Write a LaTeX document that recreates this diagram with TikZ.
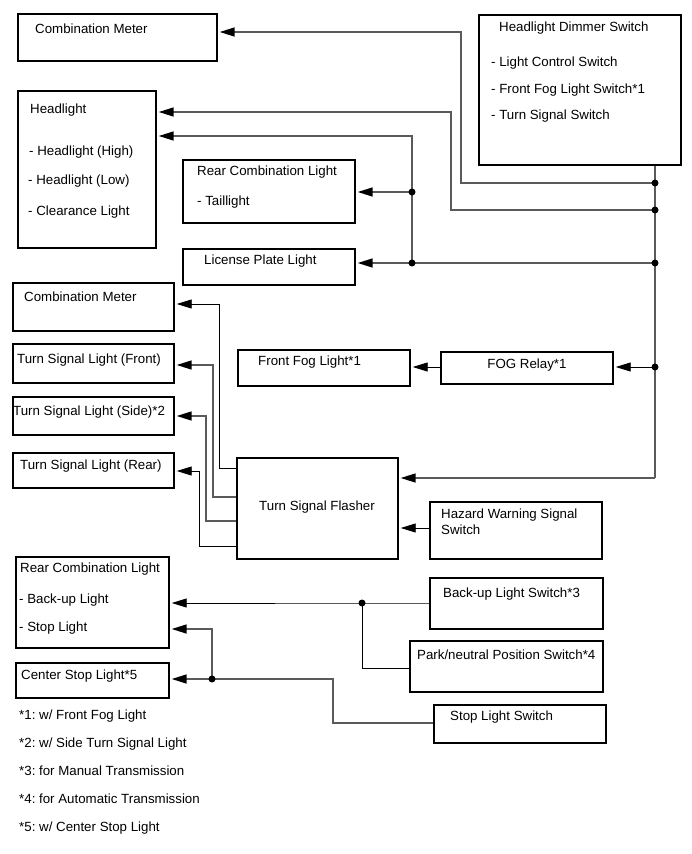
\documentclass[tikz,border=0pt]{standalone}
\usepackage{fontspec}
\setmainfont{Liberation Sans}
\usetikzlibrary{arrows.meta}
\frenchspacing
\begin{document}
\begin{tikzpicture}[x=1pt,y=-1pt,
  box/.style={draw=black, line width=1.7pt, inner sep=0pt, anchor=north west},
  lbl/.style={anchor=base west, inner sep=0pt, font=\fontsize{13.3}{16}\selectfont},
  clbl/.style={anchor=base, inner sep=0pt, font=\fontsize{13.3}{16}\selectfont},
  wire/.style={draw={rgb,255:red,90;green,90;blue,90}, line width=1.5pt},
  wireb/.style={draw=black, line width=0.9pt},
  arr/.style={-{Triangle[length=15pt,width=9pt,fill=black,color=black]}, shorten >=2pt},
  jdot/.style={circle, fill=black, inner sep=0pt, minimum size=7pt}]
\useasboundingbox[fill=white] (0,0) rectangle (691,854);

% boxes
\node[box, minimum width=199pt, minimum height=47pt] (cm1) at (17,13) {};
\node[box, minimum width=138pt, minimum height=157pt] (hl) at (17,90) {};
\node[box, minimum width=172pt, minimum height=63pt] (rcl1) at (182,159) {};
\node[box, minimum width=172pt, minimum height=36pt] (lpl) at (182,248) {};
\node[box, minimum width=202pt, minimum height=150pt] (hds) at (478,14) {};
\node[box, minimum width=161pt, minimum height=48pt] (cm2) at (12,282) {};
\node[box, minimum width=161pt, minimum height=39pt] (tslf) at (12,343) {};
\node[box, minimum width=161pt, minimum height=38pt] (tsls) at (12,396) {};
\node[box, minimum width=161pt, minimum height=35pt] (tslr) at (12,452) {};
\node[box, minimum width=172pt, minimum height=36pt] (ffl) at (237,349) {};
\node[box, minimum width=172pt, minimum height=32pt] (fog) at (440,351) {};
\node[box, minimum width=161pt, minimum height=101pt] (tsf) at (236,457) {};
\node[box, minimum width=172pt, minimum height=57pt] (hws) at (429,501) {};
\node[box, minimum width=153pt, minimum height=91pt] (rcl2) at (15,556) {};
\node[box, minimum width=153pt, minimum height=35pt] (csl) at (15,662) {};
\node[box, minimum width=173pt, minimum height=51pt] (bls) at (429,577) {};
\node[box, minimum width=193pt, minimum height=51pt] (pnp) at (409,640) {};
\node[box, minimum width=172pt, minimum height=38pt] (sls) at (433,704) {};

% labels
\node[lbl] (tcm1) at (35,33) {Combination Meter};
\node[lbl] (thl0) at (30,113) {Headlight};
\node[lbl] (thl1) at (29,155) {- Headlight (High)};
\node[lbl] (thl2) at (28,184) {- Headlight (Low)};
\node[lbl] (thl3) at (28,215) {- Clearance Light};
\node[lbl] (trcl1a) at (197,175) {Rear Combination Light};
\node[lbl] (trcl1b) at (197,205) {- Taillight};
\node[lbl] (tlpl) at (204,264) {License Plate Light};
\node[lbl] (thds0) at (499,31) {Headlight Dimmer Switch};
\node[lbl] (thds1) at (491,66) {- Light Control Switch};
\node[lbl] (thds2) at (491,93) {- Front Fog Light Switch*1};
\node[lbl] (thds3) at (491,119) {- Turn Signal Switch};
\node[lbl] (tcm2) at (24,301) {Combination Meter};
\node[lbl] (ttslf) at (17,363) {Turn Signal Light (Front)};
\node[lbl] (ttsls) at (13,415) {Turn Signal Light (Side)*2};
\node[lbl] (ttslr) at (20,469) {Turn Signal Light (Rear)};
\node[lbl] (tffl) at (258,365) {Front Fog Light*1};
\node[clbl] (tfog) at (527,368) {FOG Relay*1};
\node[clbl] (ttsf) at (317,510) {Turn Signal Flasher};
\node[lbl] (thws1) at (441,518) {Hazard Warning Signal};
\node[lbl] (thws2) at (441,534) {Switch};
\node[lbl] (trcl2a) at (20,572) {Rear Combination Light};
\node[lbl] (trcl2b) at (19,603) {- Back-up Light};
\node[lbl] (trcl2c) at (19,631) {- Stop Light};
\node[lbl] (tcsl) at (21,679) {Center Stop Light*5};
\node[lbl] (tbls) at (443,597) {Back-up Light Switch*3};
\node[lbl] (tpnp) at (417,659) {Park/neutral Position Switch*4};
\node[lbl] (tstopsw) at (450,720) {Stop Light Switch};
\node[lbl] (fn1) at (19,719) {*1: w/ Front Fog Light};
\node[lbl] (fn2) at (19,747) {*2: w/ Side Turn Signal Light};
\node[lbl] (fn3) at (19,775) {*3: for Manual Transmission};
\node[lbl] (fn4) at (19,803) {*4: for Automatic Transmission};
\node[lbl] (fn5) at (19,831) {*5: w/ Center Stop Light};

% junction and bend coordinates
\coordinate (j1) at (655,183);
\coordinate (j2) at (655,210);
\coordinate (j3) at (655,263);
\coordinate (j4) at (655,367);
\coordinate (j5) at (655,478);
\coordinate (k1) at (412,192);
\coordinate (k2) at (412,263);
\coordinate (b1) at (461,32);
\coordinate (b2) at (451,112);
\coordinate (b3) at (412,136);
\coordinate (h1) at (420,528);
\coordinate (f1) at (219,468);
\coordinate (f2) at (213,497);
\coordinate (f3) at (206,521);
\coordinate (f4) at (199,546);
\coordinate (g1) at (219,304);
\coordinate (g2) at (213,365);
\coordinate (g3) at (206,416);
\coordinate (g4) at (199,471);
\coordinate (m1) at (362,603);
\coordinate (m2) at (362,668);
\coordinate (s1) at (333,723);
\coordinate (s2) at (333,679);
\coordinate (s3) at (212,679);
\coordinate (s4) at (212,629);

% connectors from dimmer switch
\draw[wire] (hds.south -| j1) -- (j5);
\draw[wire,arr] (j5) -- (tsf.east |- j5);
\draw[wire,arr] (j1) -| (b1) -- (cm1.east |- b1);
\draw[wire,arr] (j2) -| (b2) -- (hl.east |- b2);
\draw[wire,arr] (j3) -- (k2) -- (b3) -- (hl.east |- b3);
\draw[wire,arr] (k1) -- (rcl1.east |- k1);
\draw[wire,arr] (k2) -- (lpl.east |- k2);
\draw[wireb,arr] (j4) -- (fog.east |- j4);
\draw[wireb,arr] (fog.west |- j4) -- (ffl.east |- j4);
\draw[wireb,arr] (hws.west |- h1) -- (tsf.east |- h1);

% flasher outputs
\draw[wireb,arr] (tsf.west |- f1) -- (f1) -- (g1) -- (cm2.east |- g1);
\draw[wire,arr] (tsf.west |- f2) -- (f2) -- (g2) -- (tslf.east |- g2);
\draw[wire,arr] (tsf.west |- f3) -- (f3) -- (g3) -- (tsls.east |- g3);
\draw[wireb,arr] (tsf.west |- f4) -- (f4) -- (g4) -- (tslr.east |- g4);

% back-up and stop lights
\draw[wireb,arr] (bls.west |- m1) -- (m1) -- (rcl2.east |- m1);
\draw[wireb] (pnp.west |- m2) -- (m2) -- (m1);
\draw[wire,arr] (sls.west |- s1) -- (s1) -- (s2) -- (s3) -- (csl.east |- s3);
\draw[wire,arr] (s3) -- (s4) -- (rcl2.east |- s4);

% junction dots
\foreach \p in {j1,j2,j3,j4,k1,k2,m1,s3} \node[jdot] (d\p) at (\p) {};
\end{tikzpicture}
\end{document}
